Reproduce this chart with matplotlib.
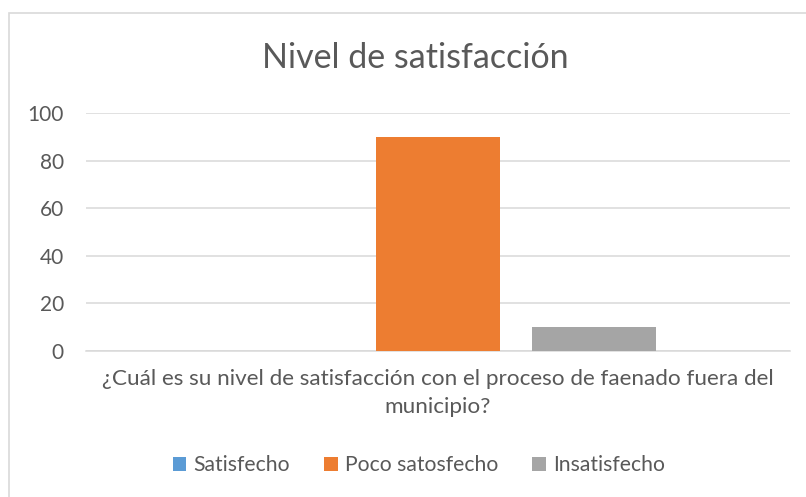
import matplotlib
matplotlib.use("Agg")
import matplotlib.pyplot as plt
from matplotlib.patches import Rectangle

series = ["Satisfecho", "Poco satosfecho", "Insatisfecho"]
values = [0, 90, 10]
colors = ["#5B9BD5", "#ED7D31", "#A5A5A5"]
category = "¿Cuál es su nivel de satisfacción con el proceso de faenado fuera del\nmunicipio?"
title = "Nivel de satisfacción"
yticks = [0, 20, 40, 60, 80, 100]

plt.rcParams['font.family'] = ['Lato', 'DejaVu Sans']
txt = "#595959"

fig = plt.figure(figsize=(8.06, 4.97), dpi=100)
W, H = 806, 497
ax = fig.add_axes([86 / W, 1 - 351 / H, (790 - 86) / W, (351 - 113) / H])

bw = 124 / 704
step = 156 / 704
for i, (s, v, c) in enumerate(zip(series, values, colors)):
    ax.bar((i - 1) * step, v, width=bw, color=c, label=s, zorder=3)

ax.set_xlim(-0.5, 0.5)
ax.set_ylim(0, 100)
ax.set_yticks(yticks)
ax.set_yticklabels([str(t) for t in yticks], fontsize=15, color=txt)
ax.yaxis.grid(True, color="#D9D9D9", linewidth=1.1, zorder=0)
ax.tick_params(axis='y', length=0, pad=16)
ax.tick_params(axis='x', length=0, pad=13)
ax.set_xticks([0])
ax.set_xticklabels([category], fontsize=16.2, color=txt, linespacing=1.5)
for sp in ["top", "right", "left"]:
    ax.spines[sp].set_visible(False)
ax.spines["bottom"].set_color("#D9D9D9")
ax.spines["bottom"].set_linewidth(1.1)

fig.text(415 / W, 1 - 58 / H, title, ha="center", va="center", fontsize=24.5, color=txt)

leg = fig.legend(loc="center", bbox_to_anchor=(419 / W, 1 - 465 / H), ncol=3, frameon=False,
                 fontsize=15.2, handlelength=0.65, handleheight=0.65, handletextpad=0.35,
                 columnspacing=1.6, labelcolor=txt)

fig.patches.append(Rectangle((9 / W, -0.1), 1.2, 1 - 13 / H + 0.1, transform=fig.transFigure,
                             fill=False, edgecolor="#D9D9D9", linewidth=1.2))

fig.savefig("out.png", dpi=100)
